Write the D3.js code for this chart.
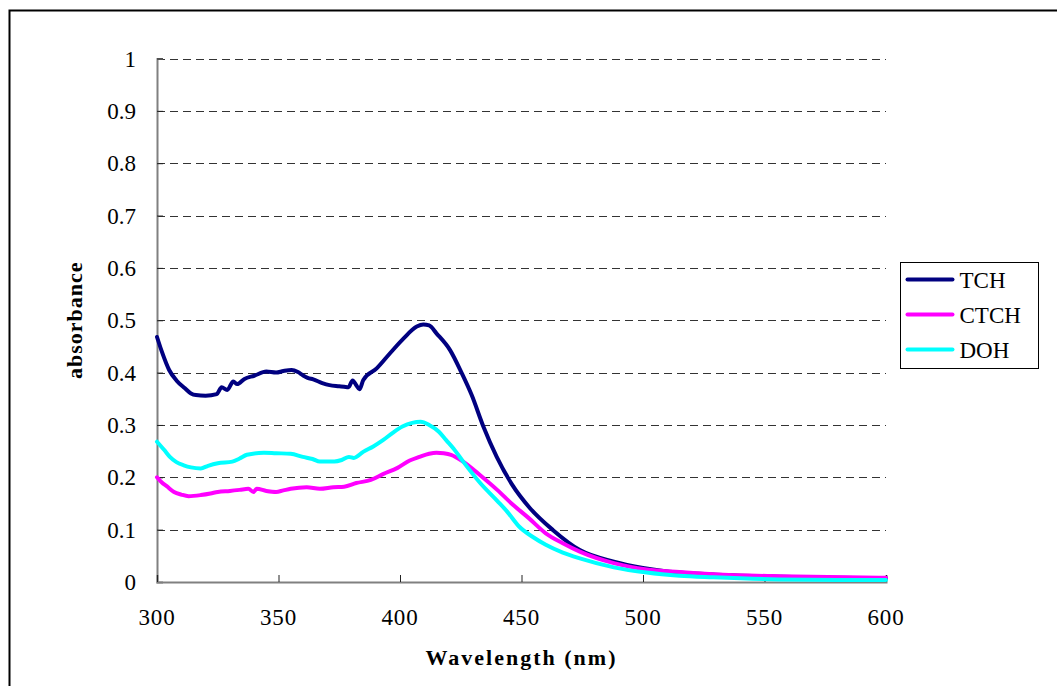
<!DOCTYPE html>
<html>
<head>
<meta charset="utf-8">
<script src="https://cdn.jsdelivr.net/npm/d3@7"></script>
<style>
  html, body { margin: 0; padding: 0; background: #fff; }
  svg { display: block; font-family: 'Liberation Serif', 'Times New Roman', serif; }
</style>
</head>
<body>
<div id="chart"></div>
<script>
// wavelengths (nm) and absorbance
const TCH_WL = [300, 302, 305, 308, 311.5, 314, 316, 320, 324.6, 326.6, 328.9, 331.4, 333, 336, 340, 345, 349, 352, 355.4, 358, 360, 362, 364.3, 368, 371, 375, 377, 378.8, 380.5, 382, 383.3, 384.9, 390.4, 395.9, 401.4, 406.9, 409.6, 412, 415, 420.6, 425.4, 429.5, 434.3, 439.8, 446, 453.5, 463, 474, 488, 500, 515, 530, 550, 575, 600]
const TCH_ABS = [0.468, 0.44, 0.405, 0.385, 0.37, 0.36, 0.357, 0.356, 0.359, 0.372, 0.367, 0.383, 0.378, 0.388, 0.394, 0.402, 0.4, 0.403, 0.405, 0.401, 0.395, 0.39, 0.387, 0.38, 0.376, 0.374, 0.373, 0.372, 0.385, 0.376, 0.368, 0.386, 0.408, 0.437, 0.465, 0.488, 0.492, 0.49, 0.475, 0.443, 0.399, 0.357, 0.297, 0.239, 0.187, 0.141, 0.099, 0.061, 0.039, 0.027, 0.018, 0.014, 0.011, 0.008, 0.007]

const CTCH_WL = [300, 302, 304, 307, 310, 313, 318, 322, 325, 330, 334, 337.6, 339.7, 341, 345, 349, 352, 355, 361.6, 367, 372.6, 377, 382, 388, 393, 399, 404, 408, 412, 415, 418, 421, 426, 433, 440, 446.6, 453, 460, 467, 474, 488, 501.5, 515, 529, 556, 584, 600]
const CTCH_ABS = [0.2, 0.19, 0.183, 0.172, 0.167, 0.164, 0.166, 0.169, 0.172, 0.174, 0.176, 0.178, 0.172, 0.178, 0.174, 0.172, 0.175, 0.178, 0.181, 0.178, 0.181, 0.182, 0.189, 0.195, 0.206, 0.218, 0.232, 0.239, 0.245, 0.247, 0.246, 0.243, 0.23, 0.204, 0.176, 0.147, 0.122, 0.093, 0.074, 0.058, 0.036, 0.024, 0.019, 0.015, 0.011, 0.009, 0.008]

const DOH_WL = [300, 303, 305.3, 308, 311, 314, 318, 321, 325, 331, 334, 337, 344, 349, 355, 360, 364, 367, 373, 376, 379, 381, 385, 389, 393, 397, 401, 405, 408.5, 412, 416, 419, 422, 426, 433, 440, 444, 449, 455, 460, 467, 474, 488, 501.5, 515, 529, 556, 580, 600]
const DOH_ABS = [0.268, 0.252, 0.239, 0.229, 0.223, 0.219, 0.217, 0.222, 0.227, 0.23, 0.236, 0.243, 0.247, 0.246, 0.245, 0.239, 0.235, 0.23, 0.23, 0.233, 0.239, 0.237, 0.249, 0.259, 0.271, 0.285, 0.297, 0.304, 0.306, 0.3, 0.287, 0.271, 0.255, 0.23, 0.189, 0.155, 0.135, 0.106, 0.085, 0.071, 0.056, 0.045, 0.028, 0.018, 0.012, 0.009, 0.005, 0.004, 0.004]

const SERIES = [
  {name: 'TCH', color: '#000080', wl: TCH_WL, abs: TCH_ABS},
  {name: 'CTCH', color: '#ff00ff', wl: CTCH_WL, abs: CTCH_ABS},
  {name: 'DOH', color: '#00ffff', wl: DOH_WL, abs: DOH_ABS}
]

const X_TICKS = [300, 350, 400, 450, 500, 550, 600]
const Y_TICKS = [0, 0.1, 0.2, 0.3, 0.4, 0.5, 0.6, 0.7, 0.8, 0.9, 1]

const width = 1057
const height = 686
const margin = {top: 58.5, left: 157, right: 171, bottom: 104}

const svg = d3.select('#chart').append('svg')
  .attr('width', width)
  .attr('height', height)

// outer chart frame (runs off the right and bottom edge)
svg.append('rect')
  .attr('x', 9.5).attr('y', 10.5)
  .attr('width', width + 20).attr('height', height + 20)
  .attr('fill', 'none')
  .attr('stroke', '#000')
  .attr('stroke-width', 2)

const x = d3.scaleLinear().domain([300, 600]).range([margin.left, width - margin.right])
const y = d3.scaleLinear().domain([0, 1]).range([height - margin.bottom, margin.top])

// dashed gridlines
svg.append('g')
  .selectAll('line')
  .data(Y_TICKS.filter(d => d > 0))
  .join('line')
    .attr('x1', x(300)).attr('x2', x(600))
    .attr('y1', d => Math.round(y(d)) + 0.5)
    .attr('y2', d => Math.round(y(d)) + 0.5)
    .attr('stroke', '#333')
    .attr('stroke-dasharray', '8,5')

// y axis, ticks inside
const yAxis = svg.append('g')
  .attr('transform', `translate(${x(300)},0)`)
  .call(d3.axisRight(y).tickValues(Y_TICKS).tickSize(6).tickFormat(''))
yAxis.select('.domain').attr('stroke', '#808080').attr('stroke-width', 2)
yAxis.selectAll('.tick line').attr('stroke', '#222')

svg.append('g')
  .selectAll('text')
  .data(Y_TICKS)
  .join('text')
    .attr('x', 136)
    .attr('y', d => y(d) + 8)
    .attr('text-anchor', 'end')
    .attr('font-size', 23)
    .text(d => d3.format('~g')(d))

// x axis, ticks inside
const xAxis = svg.append('g')
  .attr('transform', `translate(0,${y(0)})`)
  .call(d3.axisTop(x).tickValues(X_TICKS).tickSize(7).tickFormat(''))
xAxis.select('.domain').attr('stroke', '#808080').attr('stroke-width', 2)
xAxis.selectAll('.tick line').attr('stroke', '#222')

svg.append('g')
  .selectAll('text')
  .data(X_TICKS)
  .join('text')
    .attr('x', d => x(d))
    .attr('y', 625)
    .attr('text-anchor', 'middle')
    .attr('font-size', 23)
    .attr('letter-spacing', 0.8)
    .text(d => d)

// axis titles
svg.append('text')
  .attr('x', (x(300) + x(600)) / 2)
  .attr('y', 665)
  .attr('text-anchor', 'middle')
  .attr('font-size', 22)
  .attr('font-weight', 'bold')
  .attr('letter-spacing', 2)
  .text('Wavelength (nm)')

svg.append('text')
  .attr('transform', `translate(82,${(y(0) + y(1)) / 2}) rotate(-90)`)
  .attr('text-anchor', 'middle')
  .attr('font-size', 22)
  .attr('font-weight', 'bold')
  .attr('letter-spacing', 1)
  .text('absorbance')

// spectra
const line = d3.line()
  .x(d => x(d[0]))
  .y(d => y(d[1]))
  .curve(d3.curveMonotoneX)

svg.append('g')
  .selectAll('path')
  .data(SERIES)
  .join('path')
    .attr('d', s => line(d3.zip(s.wl, s.abs)))
    .attr('fill', 'none')
    .attr('stroke', s => s.color)
    .attr('stroke-width', 4)
    .attr('stroke-linejoin', 'round')
    .attr('stroke-linecap', 'round')

// legend
const legend = svg.append('g').attr('transform', 'translate(900.5,262.5)')
legend.append('rect')
  .attr('width', 138).attr('height', 106)
  .attr('fill', '#fff')
  .attr('stroke', '#000')

const item = legend.selectAll('g')
  .data(SERIES)
  .join('g')
    .attr('transform', (d, i) => `translate(0,${17 + i * 35})`)

item.append('line')
  .attr('x1', 7).attr('x2', 52)
  .attr('stroke', d => d.color)
  .attr('stroke-width', 4)
  .attr('stroke-linecap', 'round')

item.append('text')
  .attr('x', 59)
  .attr('y', 8)
  .attr('font-size', 23)
  .text(d => d.name)
</script>
</body>
</html>
